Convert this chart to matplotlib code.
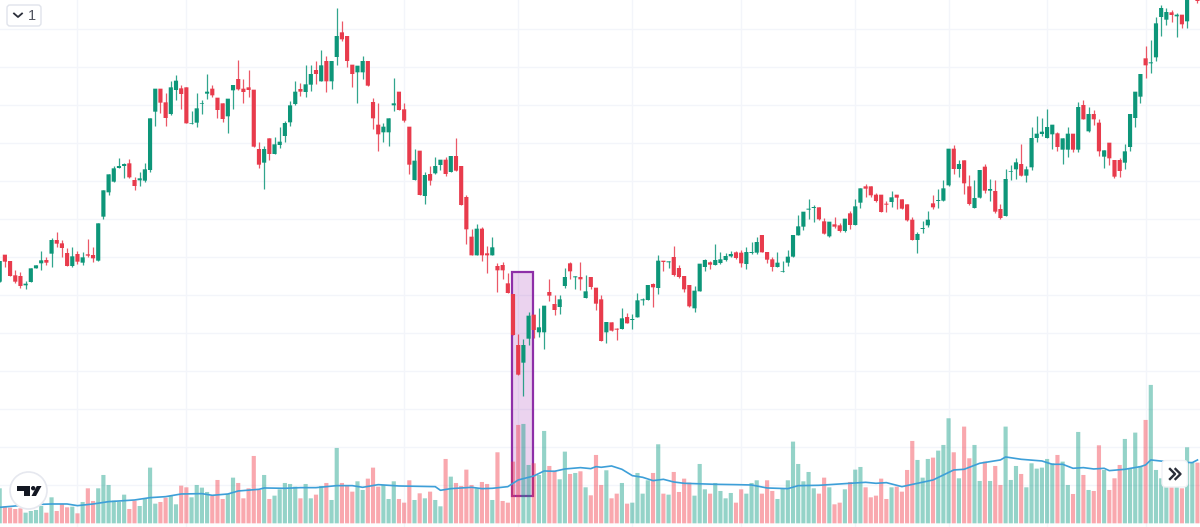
import numpy as np
import matplotlib
matplotlib.use("Agg")
import matplotlib.pyplot as plt
from matplotlib.patches import Rectangle, FancyBboxPatch, Circle, Polygon

# candle values, one column per session
direction = ("GRRRRGGGGR" "GRRRGRGRRG" "GGGGGRRGGG" "GRRGGRRGGG" "GRRRGGRRRR"
             "RGRGGGGGRG" "GRGRGGRRRG" "GRRRGGGRRR" "GRGRGGRGRR" "RRGRRGRRRR"
             "RGGRGGRRGG" "RGRGRRRGRR" "GRGGGGRGRG" "RRRRGGGRGG" "GGRRGGGRRR"
             "GGGGGGGGRR" "GRRGRGGRRR" "RRGRRRRGGG" "RGGGRGRRGG" "RGRRGGGRGG"
             "GGGGRGGRGR" "GRRGRRRGGG" "GRGGGGRGRG" "GR")
body_high = [417,436,417,374,372,349,395,404,419,420,
             480,480,470,441,431,438,428,437,435,530,
             629,677,695,702,708,710,660,665,692,845,
             934,934,893,938,958,935,938,831,875,891,
             925,934,907,890,904,945,963,934,938,931,
             753,753,785,767,775,831,884,925,933,947,
             978,990,1004,1017,1017,1092,1103,1092,1006,1003,
             1017,1017,894,826,820,845,890,925,872,820,
             718,748,675,678,702,721,721,732,732,702,
             609,490,514,514,440,458,402,405,350,318,
             165,165,253,256,218,283,324,288,302,369,
             410,371,369,326,369,337,302,234,233,214,
             245,249,243,299,302,345,348,418,418,416,
             429,396,372,345,328,409,420,413,420,422,
             432,438,443,442,444,444,474,495,444,422,
             412,387,430,495,521,565,574,579,578,536,
             535,527,524,544,560,581,635,641,641,616,
             616,589,608,616,602,587,541,498,516,541,
             590,600,635,754,754,708,719,641,606,690,
             700,633,627,573,663,687,713,708,692,786,
             799,805,819,826,800,785,799,799,879,885,
             858,858,832,749,772,720,720,746,858,925,
             978,1025,1013,1130,1176,1164,1163,1156,1156,1220,
             1260,1215]
body_low = [355,415,372,355,342,344,354,395,410,412,
            439,469,456,402,402,415,412,433,425,418,
            550,623,655,696,702,668,642,659,658,690,
            865,892,846,858,930,918,830,829,832,889,
            919,914,870,843,851,929,932,924,930,760,
            706,712,738,738,765,792,833,888,925,924,
            946,978,956,956,956,1029,1082,1017,978,983,
            983,943,845,797,803,803,884,870,838,706,
            660,615,612,658,680,705,678,684,688,585,
            512,434,434,434,434,434,389,389,321,195,
            76,112,184,210,203,203,313,270,279,342,
            386,368,362,306,339,289,177,203,208,211,
            213,230,240,248,299,300,338,336,414,413,
            375,369,332,281,275,326,399,406,405,411,
            420,431,426,410,408,441,442,443,421,399,
            399,385,412,430,494,520,571,576,542,499,
            491,520,507,507,525,525,592,634,614,597,
            564,586,594,607,574,539,480,480,513,524,
            578,597,598,644,693,693,650,588,576,607,
            628,628,565,546,552,685,692,673,673,698,
            786,798,786,797,759,751,751,751,751,842,
            806,842,746,730,725,670,687,712,759,846,
            910,1004,1010,1028,1149,1141,1155,1151,1127,1136,
            1230,1197]
wick_high = [417,436,417,390,385,358,395,404,446,428,
             485,503,480,457,458,446,445,483,458,530,
             629,677,702,725,710,723,668,685,710,845,
             934,934,920,958,976,945,938,866,920,900,
             977,944,907,890,904,945,1019,962,990,931,
             775,762,785,788,818,838,898,958,952,1004,
             1005,1016,1049,1033,1017,1175,1138,1092,1006,1003,
             1033,1017,905,890,830,845,965,925,890,820,
             753,748,685,702,728,721,730,732,785,702,
             615,514,528,518,462,490,410,414,380,318,
             197,182,263,256,275,283,362,315,315,395,
             414,371,415,374,369,337,315,234,233,216,
             275,260,257,320,305,345,352,436,418,418,
             463,404,372,345,342,409,422,418,468,444,
             440,447,448,450,458,475,488,495,444,430,
             444,417,450,495,554,565,602,585,578,545,
             535,548,532,544,567,602,635,647,641,620,
             616,598,626,616,602,587,550,504,536,566,
             616,632,659,754,766,720,719,675,659,690,
             708,662,659,588,692,706,726,767,701,818,
             853,845,873,826,804,785,820,799,893,899,
             879,870,844,749,772,720,725,767,858,925,
             978,1062,1080,1150,1184,1176,1170,1162,1156,1220,
             1270,1220]
wick_low = [355,400,372,350,335,332,354,395,390,405,
            400,460,430,402,398,408,404,430,415,418,
            544,615,653,695,667,667,630,642,655,685,
            822,862,822,854,900,873,830,828,820,858,
            904,908,845,833,800,872,930,892,908,760,
            695,634,720,738,755,774,822,886,912,908,
            926,948,956,925,934,1004,1078,1000,940,892,
            962,943,813,748,775,762,868,870,835,677,
            660,615,588,645,678,690,673,684,686,585,
            467,434,434,417,380,434,324,364,320,195,
            76,12,165,185,188,152,297,256,258,337,
            362,332,330,306,332,270,177,172,208,180,
            213,230,214,248,285,300,278,319,388,396,
            373,365,324,280,265,326,386,392,405,408,
            418,430,422,400,392,438,437,443,410,387,
            399,383,402,430,494,510,542,534,540,498,
            488,515,505,505,512,525,577,608,610,595,
            564,564,580,574,574,537,480,440,502,518,
            574,576,598,642,677,668,617,585,575,607,
            622,598,560,544,552,660,663,673,655,690,
            773,792,786,752,748,709,730,745,745,842,
            805,826,733,695,706,665,670,692,747,818,
            892,967,980,1018,1092,1125,1135,1090,1116,1116,
            1225,1192]

# volume and its moving average
volume = [105,50,47,43,45,32,37,40,52,32,
          78,37,58,48,50,30,64,105,67,105,
          145,115,68,65,86,43,68,52,75,167,
          59,64,77,82,57,113,108,78,115,107,
          94,82,130,73,88,137,121,75,105,202,
          100,145,73,83,102,121,118,110,75,118,
          75,86,112,121,70,226,121,114,95,126,
          100,134,167,110,115,73,126,73,62,129,
          70,90,75,95,70,51,193,140,121,112,
          161,115,105,124,118,70,213,67,62,185,
          295,298,175,180,145,277,172,158,132,215,
          148,151,156,108,84,205,115,159,75,89,
          121,59,62,151,89,129,151,237,89,86,
          154,94,134,122,83,178,102,89,121,97,
          75,91,62,102,89,121,129,89,129,97,
          73,105,129,245,178,126,154,105,89,137,
          108,57,62,102,124,161,169,108,78,83,
          134,73,108,110,95,160,247,190,137,193,
          197,218,235,315,213,135,290,195,235,127,
          185,127,172,115,290,130,172,148,108,180,
          164,167,193,180,205,185,115,88,274,145,
          100,97,234,160,100,135,175,253,165,272,
          172,310,415,160,135,110,110,130,105,228,
          182,182]
ma_index = [0,3,6,10,13,15,18,21,26,29,32,35,39,41,44,46,50,51,55,58,
            61,65,68,70,73,77,84,85,87,91,93,95,98,100,103,105,107,109,112,114,115,
            116,118,120,122,124,126,128,130,132,136,138,142,145,148,152,154,158,161,167,169,171,
            174,177,180,184,186,189,193,194,197,201,203,205,207,209,211,213,214,217,220,221,222,225,230,231]
ma_value = [48,52,56,58,58,53,58,65,70,77,80,88,89,84,88,97,102,106,105,107,
            107,113,113,108,116,112,110,99,104,108,104,105,110,130,142,157,156,163,167,164,170,
            168,172,162,143,138,128,132,124,120,118,117,116,115,106,104,113,114,117,123,120,122,
            110,120,130,160,162,180,190,199,192,187,177,177,165,167,163,165,158,162,170,175,190,185,182,190]

# session and price levels where the grid sits
grid_sessions = [15,36,78,100,122,143,165,183,202,221]
grid_prices = [1113,999,885,771,657,543,429,315,201,87,-27,-141,-255]
# highlighted range
box_sessions = [98.8, 102.9]
box_prices = [-287, 384]

UP = "#0d9679"
DOWN = "#e83b4c"
VOL_UP = "#089981"
VOL_DOWN = "#f23645"
LOGO = "#131722"

fig = plt.figure(figsize=(12, 5.27), dpi=100)
ax = fig.add_axes([0, 0, 1, 1])
ax.set_xlim(0.058, 231.49)
ax.set_ylim(-381, 1200)
ax.set_xticks(grid_sessions)
ax.set_yticks(grid_prices)
ax.tick_params(length=0, labelbottom=False, labelleft=False)
ax.grid(True, color="#f3f5fa", lw=1)
ax.set_axisbelow(True)
for s in ax.spines.values():
    s.set_visible(False)

sessions = np.arange(len(direction))
up = np.array([c == "G" for c in direction])
colors = np.where(up, UP, DOWN)
vol_colors = np.where(up, VOL_UP, VOL_DOWN)
body_high = np.array(body_high)
body_low = np.array(body_low)
open_ = np.where(up, body_low, body_high)
close = np.where(up, body_high, body_low)

box_w = box_sessions[1] - box_sessions[0]
box_h = box_prices[1] - box_prices[0]
ax.add_patch(Rectangle((box_sessions[0], box_prices[0]), box_w, box_h,
                       facecolor=(0.61, 0.15, 0.69, 0.2), edgecolor="none", zorder=1.5))
ax.add_patch(Rectangle((box_sessions[0], box_prices[0]), box_w, box_h, fill=False,
                       edgecolor="#8e2fa8", lw=1.6, zorder=1.6))

ax.vlines(sessions, wick_low, wick_high, colors=colors, lw=0.9, alpha=0.85, zorder=2)
bodies = ax.bar(sessions, close - open_, bottom=open_, width=0.8, color=colors, lw=0, zorder=3)
# pixel snapping makes the bars uneven, some 3px and some 5px
for p in bodies:
    p.set_snap(False)

# volume pane shares the sessions but has its own scale
vol = fig.add_axes([0, 0, 1, 1], sharex=ax)
vol.set_ylim(-11, 1569)
vol.patch.set_alpha(0)
vol.axis("off")
vol_bars = vol.bar(sessions, volume, width=0.8, color=vol_colors, alpha=0.43, lw=0, zorder=2)
for p in vol_bars:
    p.set_snap(False)
vol.plot(ma_index, ma_value, color="#3d9fd8", lw=1.2, zorder=3)

# chart buttons, laid out in screen pixels
ui = fig.add_axes([0, 0, 1, 1])
ui.set_xlim(0, 1200)
ui.set_ylim(527, 0)
ui.axis("off")
ui.patch.set_alpha(0)

ui.add_patch(FancyBboxPatch((7, 5), 34, 21, boxstyle="round,pad=0,rounding_size=3",
                            facecolor="white", edgecolor="#e0e3eb", lw=1))
ui.plot([14, 18, 22], [13.5, 17, 13.5], color="#2a2e39", lw=1.3)
ui.text(32, 15.5, "1", fontsize=10.5, color="#50535e", ha="center", va="center",
        family="Liberation Sans")

ui.add_patch(Circle((28.5, 490.5), 18.5, facecolor="white", edgecolor="#e6e8ef", lw=1.2))
ui.add_patch(Polygon([(17, 486), (29.5, 486), (29.5, 496), (23.5, 496), (23.5, 490.5), (17, 490.5)],
                     facecolor=LOGO, lw=0))
ui.add_patch(Circle((33.2, 488.2), 2.2, facecolor=LOGO, lw=0))
ui.add_patch(Polygon([(36, 496), (41.5, 486), (36.8, 486), (31.5, 496)], facecolor=LOGO, lw=0))

ui.add_patch(FancyBboxPatch((1162, 460.5), 25.5, 26.5, boxstyle="round,pad=0,rounding_size=4",
                            facecolor="white", edgecolor="#f0f1f5", lw=1))
ui.plot([1170, 1175, 1170], [469, 474, 479], color="#2a2e39", lw=1.7)
ui.plot([1175.5, 1180.5, 1175.5], [469, 474, 479], color="#2a2e39", lw=1.7)

fig.savefig("out.png", dpi=100)
